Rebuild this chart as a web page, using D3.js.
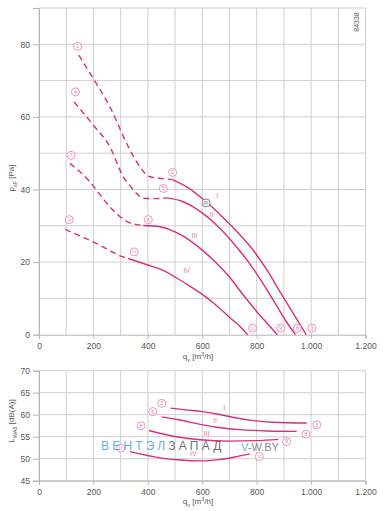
<!DOCTYPE html>
<html>
<head>
<meta charset="utf-8">
<script src="https://cdn.jsdelivr.net/npm/d3@7"></script>
<style>
  body { margin: 0; background: #fff; }
  svg { display: block; font-family: "Liberation Sans", Arial, sans-serif; }
</style>
</head>
<body>
<div id="chart"></div>
<script>
// ---- data ----
const qTicks = [0, 200, 400, 600, 800, 1000, 1200];
const pTicks = [0, 20, 40, 60, 80];
const lTicks = [45, 50, 55, 60, 65, 70];

// pressure curves, dashed part (unstable range) + solid part
const p1Dash = [[146, 77], [200, 70.5], [261, 62.7], [330, 51.5], [371, 46.2], [402, 43.7], [440, 43.1], [488, 42.8]];
const p1Solid = [[488, 42.8], [550, 40.4], [610, 36.9], [670, 32.8], [730, 28.2], [790, 23], [840, 17.6], [890, 11.3], [940, 5.2], [982, 0]];
const p2Dash = [[129, 64.1], [200, 57.7], [261, 51.7], [310, 43.5], [335, 41], [359, 38.9], [383, 37.6], [432, 37.5], [469, 37.7]];
const p2Solid = [[469, 37.7], [520, 36.9], [570, 35.1], [620, 32.4], [670, 28.9], [720, 24.7], [770, 20.0], [820, 14.5], [870, 8.4], [910, 3.5], [943, 0]];
const p3Dash = [[114, 47.2], [181, 42.6], [261, 35.2], [298, 32.5], [334, 30.8], [371, 30.2], [383, 30.1]];
const p3Solid = [[383, 30.1], [440, 29.8], [500, 28.3], [550, 26.2], [600, 23.3], [650, 19.9], [700, 15.9], [750, 11.0], [800, 6.4], [840, 3.0], [876, 0]];
const p4Dash = [[96, 29], [150, 27.2], [212, 25.1], [260, 23.2], [298, 21.7], [328, 21]];
const p4Solid = [[328, 21], [400, 19.2], [450, 17.9], [500, 15.9], [550, 13.6], [600, 11.1], [650, 8.2], [700, 4.8], [740, 2.2], [767, 0]];

// sound power curves
const l1 = [[484, 61.5], [540, 61.1], [600, 60.7], [660, 60.1], [720, 59.3], [780, 58.7], [860, 58.3], [984, 58.1]];
const l2 = [[451, 59.5], [518, 58.8], [592, 57.8], [660, 57.1], [740, 56.6], [840, 56.3], [947, 56.2]];
const l3 = [[404, 56.4], [494, 55.1], [592, 54.3], [700, 54.0], [800, 54.1], [880, 54.4]];
const l4 = [[334, 51.6], [445, 50.2], [518, 49.7], [592, 49.5], [660, 49.8], [720, 50.4], [775, 51.1]];

// numbered points
const pMarks = [[1, 142, 79.4], [2, 491, 44.7], [3, 1003, 1.8], [4, 134, 66.9], [5, 457, 40.3], [6, 949, 1.8],
                [7, 118, 49.4], [8, 402, 31.7], [9, 888, 1.8], [10, 111, 31.7], [11, 350, 22.8], [12, 785, 1.8]];
const lMarks = [[2, 451, 62.6], [3, 1021, 57.7], [5, 418, 60.7], [6, 981, 55.6], [8, 375, 57.5], [9, 910, 53.9], [11, 300, 52.4], [12, 810, 50.5]];
const pRoman = [["I", 655, 38.4], ["II", 635, 33.1], ["III", 571, 27.2], ["IV", 543, 17.8]];
const lRoman = [["I", 681, 61.6], ["II", 647, 58.6], ["III", 616, 55.8], ["IV", 567, 51.2]];
const opPoint = [614, 36.3];

// ---- drawing ----
const width = 389, height = 511;
const pink = "#d4307c", pinkLight = "#e27aae", grid = "#cfcfcf", txt = "#555";

const svg = d3.select('#chart').append('svg')
  .attr('width', width).attr('height', height)
  .attr('viewBox', `0 0 ${width} ${height}`);

const x = d3.scaleLinear().domain([0, 1200]).range([39, 365.5]);
const yP = d3.scaleLinear().domain([0, 90]).range([334.7, 8]);
const yL = d3.scaleLinear().domain([45, 70]).range([480.7, 370.7]);

const fmtQ = d => d >= 1000 ? d3.format(",")(d).replace(",", ".") : d;

function panel(y, yTicks, yGrid) {
  const g = svg.append('g');
  // grid
  g.selectAll('.vg').data(d3.range(0, 1201, 100)).join('line')
    .attr('x1', d => x(d)).attr('x2', d => x(d))
    .attr('y1', y.range()[0]).attr('y2', y.range()[1])
    .attr('stroke', grid).attr('stroke-width', 1);
  g.selectAll('.hg').data(yGrid).join('line')
    .attr('x1', x(0)).attr('x2', x(1200))
    .attr('y1', d => y(d)).attr('y2', d => y(d))
    .attr('stroke', grid).attr('stroke-width', 1);

  const ax = g.append('g').attr('transform', `translate(0,${y.range()[0]})`)
    .call(d3.axisBottom(x).tickValues(qTicks).tickFormat(fmtQ).tickSize(4).tickPadding(4));
  const ay = g.append('g').attr('transform', `translate(${x(0)},0)`)
    .call(d3.axisLeft(y).tickValues(yTicks).tickSize(6).tickPadding(3));
  [ax, ay].forEach(a => {
    a.select('.domain').attr('stroke', '#b5b5b5');
    a.selectAll('.tick line').attr('stroke', '#b5b5b5');
    a.selectAll('.tick text').attr('fill', txt).style('font-size', '8.5px')
      .style('font-family', '"Liberation Sans", Arial, sans-serif');
  });
  return g;
}

const gTop = panel(yP, pTicks, d3.range(10, 91, 10));
const gBot = panel(yL, lTicks, lTicks);

const lineP = d3.line().x(d => x(d[0])).y(d => yP(d[1])).curve(d3.curveMonotoneX);
const lineL = d3.line().x(d => x(d[0])).y(d => yL(d[1])).curve(d3.curveMonotoneX);

[p1Dash, p2Dash, p3Dash, p4Dash].forEach(s => {
  gTop.append('path').attr('d', lineP(s)).attr('fill', 'none')
    .attr('stroke', pink).attr('stroke-width', 1.4).attr('stroke-dasharray', '6,4');
});
[p1Solid, p2Solid, p3Solid, p4Solid].forEach(s => {
  gTop.append('path').attr('d', lineP(s)).attr('fill', 'none')
    .attr('stroke', pink).attr('stroke-width', 1.4);
});
[l1, l2, l3, l4].forEach(s => {
  gBot.append('path').attr('d', lineL(s)).attr('fill', 'none')
    .attr('stroke', pink).attr('stroke-width', 1.4);
});

function marks(g, y, data) {
  const m = g.selectAll(null).data(data).join('g')
    .attr('transform', d => `translate(${x(d[1])},${y(d[2])})`);
  m.append('circle').attr('r', 4).attr('fill', '#fff')
    .attr('stroke', pinkLight).attr('stroke-width', 0.8);
  m.append('text').attr('text-anchor', 'middle').attr('dy', '0.35em')
    .attr('fill', pinkLight).style('font-size', d => d[0] > 9 ? '4.2px' : '5.5px')
    .text(d => d[0]);
}
function romans(g, y, data) {
  g.selectAll(null).data(data).join('text')
    .attr('x', d => x(d[1])).attr('y', d => y(d[2]))
    .attr('text-anchor', 'middle').attr('dy', '0.35em')
    .attr('fill', pinkLight).style('font-size', '7px')
    .text(d => d[0]);
}
marks(gTop, yP, pMarks);
marks(gBot, yL, lMarks);
romans(gTop, yP, pRoman);
romans(gBot, yL, lRoman);

// operating point
const op = gTop.append('g').attr('transform', `translate(${x(opPoint[0])},${yP(opPoint[1])})`);
op.append('circle').attr('r', 4).attr('fill', '#fff').attr('stroke', '#777').attr('stroke-width', 0.9);
op.append('text').attr('text-anchor', 'middle').attr('dy', '0.35em').attr('fill', '#777')
  .style('font-size', '5.5px').text('R');

// axis titles
function qTitle(yPos) {
  const t = svg.append('text').attr('x', 198).attr('y', yPos).attr('text-anchor', 'middle')
    .attr('fill', txt).style('font-size', '8px');
  t.append('tspan').text('q');
  t.append('tspan').attr('baseline-shift', 'sub').style('font-size', '5.5px').text('v');
  t.append('tspan').text(' [m');
  t.append('tspan').attr('baseline-shift', 'super').style('font-size', '5.5px').text('3');
  t.append('tspan').text('/h]');
}
qTitle(359);
qTitle(504);

const tp = svg.append('text').attr('transform', 'translate(14,178) rotate(-90)')
  .attr('text-anchor', 'middle').attr('fill', txt).style('font-size', '8px');
tp.append('tspan').text('p');
tp.append('tspan').attr('baseline-shift', 'sub').style('font-size', '5.5px').text('sF');
tp.append('tspan').text(' [Pa]');

const tl = svg.append('text').attr('transform', 'translate(14,421) rotate(-90)')
  .attr('text-anchor', 'middle').attr('fill', txt).style('font-size', '8px');
tl.append('tspan').text('L');
tl.append('tspan').attr('baseline-shift', 'sub').style('font-size', '5.5px').text('WA5');
tl.append('tspan').text(' [dB(A)]');

svg.append('text').attr('transform', 'translate(359,22) rotate(-90)')
  .attr('text-anchor', 'middle').attr('fill', txt).style('font-size', '7px').text('84338');

// watermark
const wm = svg.append('text').attr('x', 101).attr('y', 450)
  .style('font-size', '12px').style('letter-spacing', '3.2px').attr('opacity', 0.85);
wm.append('tspan').attr('fill', '#4aa3e0').text('ВЕНТЭЛ');
wm.append('tspan').attr('fill', '#555').text('ЗАПАД');
const wm2 = svg.append('text').attr('x', 241).attr('y', 451)
  .style('font-size', '11px').attr('opacity', 0.85);
wm2.append('tspan').attr('fill', '#4aa3e0').text('V');
wm2.append('tspan').attr('fill', '#777').text('-W.BY');
</script>
</body>
</html>
